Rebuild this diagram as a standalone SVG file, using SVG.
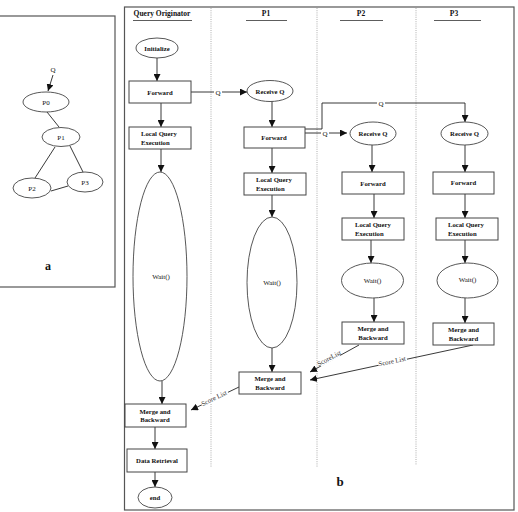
<svg xmlns="http://www.w3.org/2000/svg" width="518" height="512" viewBox="0 0 518 512">
<style>
text{font-family:"Liberation Serif","Times New Roman",serif;fill:#111}
.n{font-size:6.7px;font-weight:bold}
.w{font-size:7px}
.h{font-size:7.5px;font-weight:bold}
.s{font-size:6.8px;fill:#333}
.box{fill:#fff;stroke:#444;stroke-width:1}
.ell{fill:#fff;stroke:#444;stroke-width:0.9}
.e{fill:none;stroke:#222;stroke-width:0.9}
.dot{stroke:#999;stroke-width:0.8;stroke-dasharray:1 1.2}
.frame{fill:none;stroke:#555;stroke-width:1.2}
</style>
<defs>
<marker id="ah" markerUnits="userSpaceOnUse" markerWidth="8" markerHeight="7" refX="7" refY="3.5" orient="auto">
<path d="M0,0 L7,3.5 L0,7 Z" fill="#111"/>
</marker>
</defs>
<rect width="518" height="512" fill="#fff"/>

<!-- panel a -->
<g id="panel-a">
<rect class="frame" x="-2" y="16" width="117" height="271"/>
<g id="a-edges">
<line class="e" x1="53" y1="75" x2="48" y2="91" marker-end="url(#ah)"/>
<line class="e" x1="47" y1="112" x2="59" y2="127"/>
<line class="e" x1="55" y1="147" x2="35" y2="178"/>
<line class="e" x1="70" y1="146" x2="83" y2="172"/>
<line class="e" x1="51" y1="191" x2="68" y2="186"/>
</g>
<text class="w" x="53" y="72" text-anchor="middle">Q</text>
<g id="a-P0"><ellipse class="ell" cx="46" cy="102" rx="23" ry="10"/><text class="w" x="46" y="104.5" text-anchor="middle">P0</text></g>
<g id="a-P1"><ellipse class="ell" cx="61" cy="137" rx="19" ry="9.5"/><text class="w" x="61" y="139.5" text-anchor="middle">P1</text></g>
<g id="a-P2"><ellipse class="ell" cx="32" cy="188" rx="19" ry="10"/><text class="w" x="32" y="190.5" text-anchor="middle">P2</text></g>
<g id="a-P3"><ellipse class="ell" cx="85" cy="182" rx="18" ry="10"/><text class="w" x="85" y="184.5" text-anchor="middle">P3</text></g>
<text x="48" y="270" font-size="12" font-weight="bold" text-anchor="middle">a</text>
</g>

<!-- panel b frame and lanes -->
<g id="panel-b">
<rect class="frame" x="124.5" y="7" width="389.5" height="503"/>
<line class="dot" x1="211" y1="8" x2="211" y2="467"/>
<line class="dot" x1="317" y1="8" x2="317" y2="467"/>
<line class="dot" x1="416" y1="8" x2="416" y2="465"/>
<text class="h" x="162" y="16" text-anchor="middle">Query Originator</text>
<line x1="133" y1="20.5" x2="192" y2="20.5" stroke="#333" stroke-width="0.8"/>
<text class="h" x="266" y="16" text-anchor="middle">P1</text>
<line x1="246" y1="20.5" x2="287" y2="20.5" stroke="#333" stroke-width="0.8"/>
<text class="h" x="361" y="16" text-anchor="middle">P2</text>
<line x1="340" y1="20.5" x2="383" y2="20.5" stroke="#333" stroke-width="0.8"/>
<text class="h" x="454" y="16" text-anchor="middle">P3</text>
<line x1="434" y1="20.5" x2="481" y2="20.5" stroke="#333" stroke-width="0.8"/>
<text x="340" y="486" font-size="13" font-weight="bold" text-anchor="middle">b</text>
</g>

<!-- connectors -->
<g id="connectors">
<line class="e" x1="157" y1="58" x2="157" y2="81" marker-end="url(#ah)"/>
<line class="e" x1="161" y1="103" x2="161" y2="127" marker-end="url(#ah)"/>
<line class="e" x1="161" y1="149" x2="161" y2="172" marker-end="url(#ah)"/>
<line class="e" x1="162" y1="381" x2="162" y2="404" marker-end="url(#ah)"/>
<line class="e" x1="155" y1="427" x2="155" y2="449" marker-end="url(#ah)"/>
<line class="e" x1="155" y1="472" x2="155" y2="487" marker-end="url(#ah)"/>
<!-- QO forward -> P1 receive -->
<line class="e" x1="191" y1="92" x2="214" y2="92"/>
<line class="e" x1="222" y1="92" x2="247" y2="92" marker-end="url(#ah)"/>
<text class="w" x="218" y="94.5" text-anchor="middle">Q</text>
<!-- P1 column -->
<line class="e" x1="272" y1="101" x2="272" y2="127" marker-end="url(#ah)"/>
<line class="e" x1="272" y1="148" x2="272" y2="173" marker-end="url(#ah)"/>
<line class="e" x1="272" y1="195" x2="272" y2="217" marker-end="url(#ah)"/>
<line class="e" x1="272" y1="348" x2="272" y2="372" marker-end="url(#ah)"/>
<!-- P1 forward -> P2 / P3 -->
<polyline class="e" points="305,129 322,129 322,103 377,103"/>
<polyline class="e" points="385,103 465,103 465,122" marker-end="url(#ah)"/>
<text class="w" x="381" y="105.5" text-anchor="middle">Q</text>
<line class="e" x1="305" y1="133" x2="321" y2="133"/>
<line class="e" x1="329" y1="133" x2="347" y2="133" marker-end="url(#ah)"/>
<text class="w" x="325" y="135.5" text-anchor="middle">Q</text>
<!-- P2 column -->
<line class="e" x1="372" y1="145" x2="372" y2="172" marker-end="url(#ah)"/>
<line class="e" x1="374" y1="194" x2="374" y2="218" marker-end="url(#ah)"/>
<line class="e" x1="371" y1="240" x2="371" y2="263" marker-end="url(#ah)"/>
<line class="e" x1="374" y1="298" x2="374" y2="322" marker-end="url(#ah)"/>
<!-- P3 column -->
<line class="e" x1="465" y1="145" x2="465" y2="172" marker-end="url(#ah)"/>
<line class="e" x1="465" y1="194" x2="465" y2="218" marker-end="url(#ah)"/>
<line class="e" x1="465" y1="240" x2="465" y2="263" marker-end="url(#ah)"/>
<line class="e" x1="465" y1="298" x2="465" y2="323" marker-end="url(#ah)"/>
<!-- score lists -->
<line class="e" x1="359" y1="345" x2="310" y2="372" marker-end="url(#ah)"/>
<line class="e" x1="473" y1="345" x2="310" y2="380" marker-end="url(#ah)"/>
<line class="e" x1="239" y1="387" x2="191" y2="410" marker-end="url(#ah)"/>
</g>
<g id="score-labels">
<rect x="318" y="354" width="22" height="8" fill="#fff" transform="rotate(-28 329 358)"/>
<text class="s" x="329" y="360.5" text-anchor="middle" transform="rotate(-28 329 358)">ScoreList</text>
<rect x="378" y="357" width="29" height="8" fill="#fff" transform="rotate(-12 392 361)"/>
<text class="s" x="392" y="363.5" text-anchor="middle" transform="rotate(-12 392 361)">Score List</text>
<rect x="200" y="394" width="29" height="8" fill="#fff" transform="rotate(-26 214 398)"/>
<text class="s" x="214" y="400.5" text-anchor="middle" transform="rotate(-26 214 398)">Score List</text>
</g>

<!-- Query Originator nodes -->
<g id="qo-initialize"><ellipse class="ell" cx="157" cy="48" rx="21" ry="10"/><text class="n" x="157" y="50.5" text-anchor="middle">Initialize</text></g>
<g id="qo-forward"><rect class="box" x="129" y="81" width="62" height="22"/><text class="n" x="160" y="94.5" text-anchor="middle">Forward</text></g>
<g id="qo-lqe"><rect class="box" x="129" y="127" width="62" height="22"/><text class="n" x="141" y="136">Local Query</text><text class="n" x="141" y="144.5">Execution</text></g>
<g id="qo-wait"><ellipse class="ell" cx="160" cy="276.5" rx="27" ry="104.5"/><text class="w" x="161" y="279" text-anchor="middle">Wait()</text></g>
<g id="qo-merge"><rect class="box" x="125" y="404" width="61" height="23"/><text class="n" x="155" y="413.5" text-anchor="middle">Merge and</text><text class="n" x="155" y="422" text-anchor="middle">Backward</text></g>
<g id="qo-data"><rect class="box" x="127" y="449" width="60" height="23"/><text class="n" x="157" y="462.5" text-anchor="middle">Data Retrieval</text></g>
<g id="qo-end"><ellipse class="ell" cx="155" cy="497.5" rx="17" ry="10.5"/><text class="n" x="155" y="500" text-anchor="middle">end</text></g>

<!-- P1 nodes -->
<g id="p1-receive"><ellipse class="ell" cx="270" cy="91" rx="23" ry="10.5"/><text class="n" x="270" y="93.5" text-anchor="middle">Receive Q</text></g>
<g id="p1-forward"><rect class="box" x="244" y="127" width="61" height="21"/><text class="n" x="274" y="140" text-anchor="middle">Forward</text></g>
<g id="p1-lqe"><rect class="box" x="244" y="173" width="62" height="22"/><text class="n" x="256" y="182">Local Query</text><text class="n" x="256" y="190.5">Execution</text></g>
<g id="p1-wait"><ellipse class="ell" cx="272" cy="282.5" rx="25" ry="65.5"/><text class="w" x="272" y="285" text-anchor="middle">Wait()</text></g>
<g id="p1-merge"><rect class="box" x="239" y="372" width="62" height="22"/><text class="n" x="270" y="381" text-anchor="middle">Merge and</text><text class="n" x="270" y="389.5" text-anchor="middle">Backward</text></g>

<!-- P2 nodes -->
<g id="p2-receive"><ellipse class="ell" cx="373" cy="133.5" rx="23" ry="11.5"/><text class="n" x="373" y="136" text-anchor="middle">Receive Q</text></g>
<g id="p2-forward"><rect class="box" x="342" y="172" width="62" height="22"/><text class="n" x="373" y="185.5" text-anchor="middle">Forward</text></g>
<g id="p2-lqe"><rect class="box" x="342" y="218" width="62" height="22"/><text class="n" x="355" y="227">Local Query</text><text class="n" x="355" y="235.5">Execution</text></g>
<g id="p2-wait"><ellipse class="ell" cx="372.5" cy="280.5" rx="31" ry="17.5"/><text class="w" x="372.5" y="283" text-anchor="middle">Wait()</text></g>
<g id="p2-merge"><rect class="box" x="342" y="322" width="62" height="22"/><text class="n" x="373" y="331" text-anchor="middle">Merge and</text><text class="n" x="373" y="339.5" text-anchor="middle">Backward</text></g>

<!-- P3 nodes -->
<g id="p3-receive"><ellipse class="ell" cx="464.5" cy="133.5" rx="23.5" ry="11.5"/><text class="n" x="464.5" y="136" text-anchor="middle">Receive Q</text></g>
<g id="p3-forward"><rect class="box" x="433" y="172" width="61" height="22"/><text class="n" x="463.5" y="185" text-anchor="middle">Forward</text></g>
<g id="p3-lqe"><rect class="box" x="436" y="218" width="62" height="22"/><text class="n" x="448" y="227">Local Query</text><text class="n" x="448" y="235.5">Execution</text></g>
<g id="p3-wait"><ellipse class="ell" cx="467.5" cy="280.5" rx="30.5" ry="17.5"/><text class="w" x="467.5" y="282" text-anchor="middle">Wait()</text></g>
<g id="p3-merge"><rect class="box" x="433" y="323" width="61" height="22"/><text class="n" x="463.5" y="332" text-anchor="middle">Merge and</text><text class="n" x="463.5" y="340.5" text-anchor="middle">Backward</text></g>
</svg>
